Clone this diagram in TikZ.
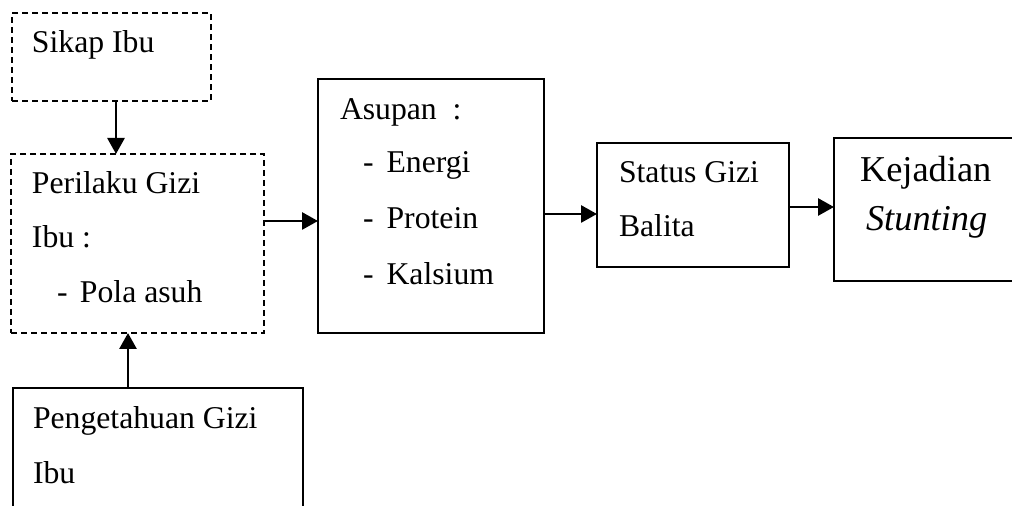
\documentclass[tikz,border=0pt]{standalone}
\usepackage{fontspec}
\setmainfont{Liberation Serif}
\usetikzlibrary{arrows.meta}
\tikzset{
  box/.style={draw, line width=1.2pt, rectangle, inner sep=0pt, outer sep=0pt, anchor=north west},
  dbox/.style={box, line width=1.1pt, dash pattern=on 3pt off 2pt},
  txt/.style={anchor=base west, inner sep=0pt, outer sep=0pt, font=\fontsize{15.85}{19}\selectfont},
  bigtxt/.style={txt, font=\fontsize{18.2}{21}\selectfont},
  arr/.style={line width=1.4pt, -{Triangle[width=8.5pt,length=8pt]}},
}
\newcommand{\itm}[1]{\makebox[11.8pt][l]{-}#1}
\begin{document}
\begin{tikzpicture}[x=0.5pt,y=-0.5pt]
\useasboundingbox (0,0) rectangle (1012,506);
\clip (0,0) rectangle (1012,506);
% boxes
\node[dbox, minimum width=99.5pt, minimum height=44pt] (sikap) at (12,13) {};
\node[dbox, minimum width=126.5pt, minimum height=89.5pt] (perilaku) at (11,154) {};
\node[box, minimum width=113pt, minimum height=127pt] (asupan) at (318,79) {};
\node[box, minimum width=96pt, minimum height=62pt] (status) at (597,143) {};
\node[box, minimum width=100pt, minimum height=71.5pt] (kejadian) at (834,138) {};
\node[box, minimum width=145pt, minimum height=75pt] (penget) at (13,388) {};
% texts
\node[txt] (t1) at (32,53) {Sikap Ibu};
\node[txt] (t2) at (32,194) {Perilaku Gizi};
\node[txt] (t3) at (32,248) {Ibu :};
\node[txt] (t4) at (57,303) {\makebox[11.5pt][l]{-}Pola asuh};
\node[txt] (t5) at (340,120) {Asupan\ \ :};
\node[txt] (t6) at (363,173) {\itm{Energi}};
\node[txt] (t7) at (363,229) {\itm{Protein}};
\node[txt] (t8) at (363,285) {\itm{Kalsium}};
\node[txt] (t9) at (619,183) {Status Gizi};
\node[txt] (t10) at (619,237) {Balita};
\node[bigtxt] (t11) at (860,182) {Kejadian};
\node[bigtxt] (t12) at (866,231) {\itshape Stunting};
\node[txt] (t13) at (33,429) {Pengetahuan Gizi};
\node[txt] (t14) at (33,484) {Ibu};
% arrows
\coordinate (ax1) at (116,0);
\coordinate (ax2) at (128,0);
\coordinate (ay1) at (0,221);
\coordinate (ay2) at (0,214);
\coordinate (ay3) at (0,207);
\draw[arr] (sikap.south -| ax1) -- (perilaku.north -| ax1);
\draw[arr] (penget.north -| ax2) -- (perilaku.south -| ax2);
\draw[arr] (perilaku.east |- ay1) -- (asupan.west |- ay1);
\draw[arr] (asupan.east |- ay2) -- (status.west |- ay2);
\draw[arr] (status.east |- ay3) -- (kejadian.west |- ay3);
\end{tikzpicture}
\end{document}
